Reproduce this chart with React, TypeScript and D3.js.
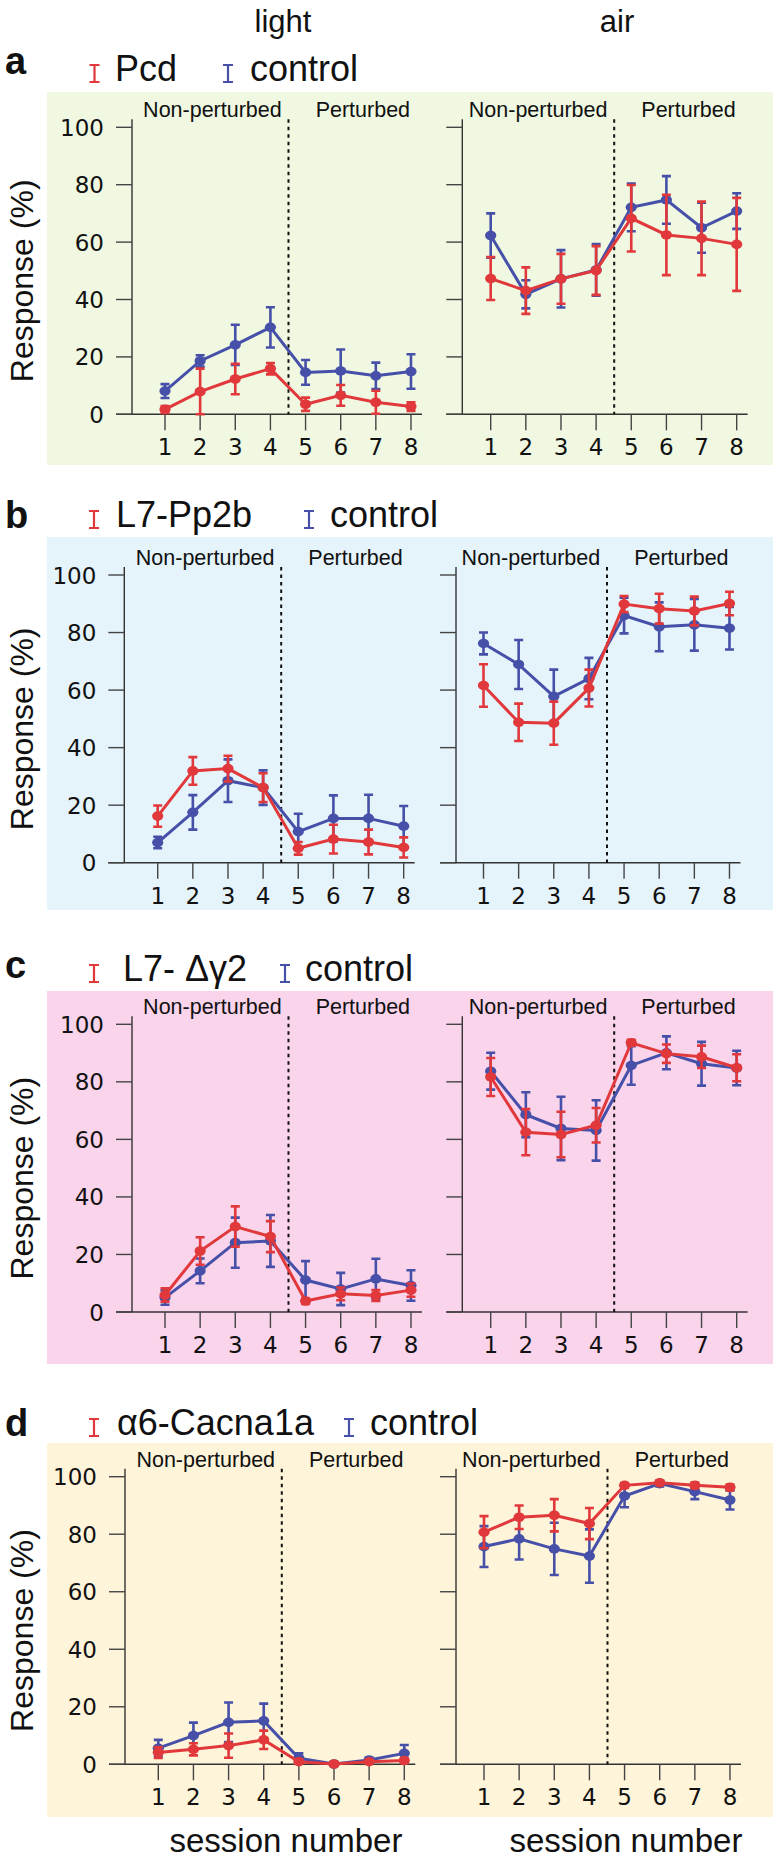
import React from "react";
import * as d3 from "d3";

// ---------- data ----------
const sessions = [1, 2, 3, 4, 5, 6, 7, 8];
const yTicks = [0, 20, 40, 60, 80, 100];
const panelLetters = ["a", "b", "c", "d"];
const mutantNames = ["Pcd", "L7-Pp2b", "L7- \u0394\u03b32", "\u03b16-Cacna1a"];
const controlName = "control";
const conditionNames = ["light", "air"];
const phaseNames = ["Non-perturbed", "Perturbed"];
const xTitle = "session number";
const yTitle = "Response (%)";

const aLightMut = [1.7, 7.9, 12.3, 15.9, 3.5, 6.6, 4.2, 2.7];
const aLightMutErr = [1.2, 8, 5.3, 2, 2.3, 3.6, 4, 1.5];
const aLightCtl = [8.1, 18.6, 24.2, 30.3, 14.6, 15.1, 13.4, 14.9];
const aLightCtlErr = [2.4, 2, 7, 7, 4.3, 7.5, 4.6, 6];
const aAirMut = [47.3, 43.1, 47.2, 50.1, 68.3, 62.5, 61.3, 59.2];
const aAirMutErr = [7.5, 8.1, 8.7, 8.5, 11.6, 14, 12.8, 16.2];
const aAirCtl = [62.3, 41.8, 47.2, 50.3, 72.1, 74.7, 65, 70.8];
const aAirCtlErr = [7.7, 4.9, 10, 9, 8.3, 8.3, 8.7, 6.2];

const bLightMut = [16.2, 31.9, 32.7, 26.1, 5, 8.2, 7.2, 5.3];
const bLightMutErr = [3.7, 4.8, 4.5, 5, 2.2, 5, 4.3, 3.5];
const bLightCtl = [7, 17.5, 28.5, 26.1, 10.8, 15.4, 15.4, 12.7];
const bLightCtlErr = [2, 6, 7.4, 6, 6.2, 8, 8.2, 7];
const bAirMut = [61.6, 48.8, 48.5, 60.7, 89.9, 88.3, 87.5, 90.1];
const bAirMutErr = [7.4, 6.5, 7.5, 6.4, 2.8, 5.2, 5, 4.1];
const bAirCtl = [76.2, 68.9, 57.8, 64, 85.9, 82, 82.7, 81.5];
const bAirCtlErr = [3.8, 8.5, 9.3, 7.2, 6.2, 8.5, 9, 7.4];

const cLightMut = [5.9, 21.2, 29.7, 26.2, 3.8, 6.3, 5.7, 7.6];
const cLightMutErr = [2.3, 4.8, 7, 5.4, 1, 2.2, 1.9, 2.3];
const cLightCtl = [5, 14.3, 24.1, 24.7, 11.1, 8, 11.5, 9.2];
const cLightCtlErr = [2.5, 4.3, 8.7, 9, 6.6, 5.6, 7, 5.3];
const cAirMut = [81.7, 62.5, 61.7, 64.9, 93.6, 89.8, 88.7, 84.9];
const cAirMutErr = [6.6, 8, 7.9, 6, 1, 3.2, 3.9, 4.7];
const cAirCtl = [83.7, 68.6, 63.8, 63.1, 85.7, 90.1, 86.3, 84.8];
const cAirCtlErr = [6.4, 7.8, 11, 10.5, 6.7, 5.7, 7.6, 6];

const dLightMut = [4.1, 5.2, 6.5, 8.5, 0.9, 0.1, 0.9, 1.3];
const dLightMutErr = [1.9, 2.1, 4.2, 3.2, 0.7, 0.3, 0.5, 0.8];
const dLightCtl = [5.6, 10, 14.6, 15.1, 2.1, 0.1, 1.5, 3.8];
const dLightCtlErr = [2.9, 4.5, 6.9, 6, 1.7, 0.3, 0.8, 2.9];
const dAirMut = [80.7, 85.9, 86.6, 83.7, 97, 97.9, 97, 96.3];
const dAirMutErr = [5.6, 4.1, 5.6, 5.4, 0.8, 0.5, 1, 1];
const dAirCtl = [75.7, 78.4, 74.9, 72.4, 93.3, 97.6, 94.8, 91.9];
const dAirCtlErr = [7.1, 7.2, 9.1, 9.3, 3.9, 1, 2.6, 3.3];

const panelData = [
  [[aLightMut, aLightMutErr, aLightCtl, aLightCtlErr], [aAirMut, aAirMutErr, aAirCtl, aAirCtlErr]],
  [[bLightMut, bLightMutErr, bLightCtl, bLightCtlErr], [bAirMut, bAirMutErr, bAirCtl, bAirCtlErr]],
  [[cLightMut, cLightMutErr, cLightCtl, cLightCtlErr], [cAirMut, cAirMutErr, cAirCtl, cAirCtlErr]],
  [[dLightMut, dLightMutErr, dLightCtl, dLightCtlErr], [dAirMut, dAirMutErr, dAirCtl, dAirCtlErr]],
];

// ---------- layout ----------
const W = 776;
const H = 1859;
const RED = "#e1383b";
const BLUE = "#4650a8";
const bgColors = ["#f0f8e1", "#e5f3fa", "#f9d4eb", "#fef4d9"];
const SANS = "'Liberation Sans', Arial, Helvetica, sans-serif";
const TICKFONT = "'DejaVu Sans', Verdana, sans-serif";
const STEP = 35.14;

const layouts = [
  { bgTop: 92, bgBottom: 465, y100: 127.3, y0: 414.3, axes: [132, 462.3], x1s: [165, 490.7], letterY: 74, legendY: 81, leg: [94.5, 115, 228, 250] },
  { bgTop: 537, bgBottom: 910, y100: 575, y0: 862.7, axes: [124.3, 456], x1s: [157.7, 483.5], letterY: 528, legendY: 527, leg: [94, 116, 309, 330] },
  { bgTop: 991, bgBottom: 1364, y100: 1024.3, y0: 1312, axes: [132, 462.3], x1s: [165, 490.7], letterY: 978, legendY: 981, leg: [94, 123, 285, 305] },
  { bgTop: 1443, bgBottom: 1817, y100: 1476.7, y0: 1764.3, axes: [125, 456], x1s: [158.3, 484], letterY: 1436, legendY: 1435, leg: [94, 117, 349, 370] },
];

function IBeam({ cx, base, color }: { cx: number; base: number; color: string }) {
  const top = base - 16;
  const bot = base + 1;
  return (
    <path
      d={`M${cx - 5},${top}H${cx + 5}M${cx},${top}V${bot}M${cx - 5},${bot}H${cx + 5}`}
      stroke={color}
      strokeWidth={2.2}
      fill="none"
    />
  );
}

function Series({ vals, errs, color, x, y }: any) {
  const line = d3
    .line<number>()
    .x((_, i) => x(sessions[i]))
    .y((v) => y(v));
  return (
    <g>
      {vals.map((v: number, i: number) => {
        const cx = x(sessions[i]);
        const yt = y(Math.min(100, v + errs[i]));
        const yb = y(Math.max(0, v - errs[i]));
        return (
          <path
            key={"e" + i}
            d={`M${cx - 4.5},${yt}H${cx + 4.5}M${cx},${yt}V${yb}M${cx - 4.5},${yb}H${cx + 4.5}`}
            stroke={color}
            strokeWidth={2.6}
            fill="none"
          />
        );
      })}
      <path d={line(vals) || ""} stroke={color} strokeWidth={3} fill="none" />
      {vals.map((v: number, i: number) => (
        <ellipse key={"m" + i} cx={x(sessions[i])} cy={y(v)} rx={5.6} ry={4.8} fill={color} />
      ))}
    </g>
  );
}

function Plot({ lay, side, data }: any) {
  const axisX = lay.axes[side];
  const x1 = lay.x1s[side];
  const x = d3.scaleLinear().domain([1, 8]).range([x1, x1 + 7 * STEP]);
  const y = d3.scaleLinear().domain([0, 100]).range([lay.y0, lay.y100]);
  const [mut, mutErr, ctl, ctlErr] = data;
  const divX = x(4.5) + 0.5;
  return (
    <g>
      <line x1={axisX} x2={axisX} y1={lay.y100 - 8} y2={lay.y0} stroke="#333" strokeWidth={1.4} />
      <line x1={axisX - 16} x2={x(8) + 11} y1={lay.y0} y2={lay.y0} stroke="#333" strokeWidth={1.4} />
      {yTicks.map((t) => (
        <g key={"yt" + t}>
          <line x1={axisX - 16} x2={axisX} y1={y(t)} y2={y(t)} stroke="#444" strokeWidth={1.4} />
          {side === 0 && (
            <text x={axisX - 28} y={y(t) + 8.5} textAnchor="end" fontFamily={TICKFONT} fontSize={23} fill="#111">
              {t}
            </text>
          )}
        </g>
      ))}
      {sessions.map((s) => (
        <g key={"xt" + s}>
          <line x1={x(s)} x2={x(s)} y1={lay.y0} y2={lay.y0 + 16} stroke="#444" strokeWidth={1.4} />
          <text x={x(s)} y={lay.y0 + 41} textAnchor="middle" fontFamily={TICKFONT} fontSize={23} fill="#111">
            {s}
          </text>
        </g>
      ))}
      <line x1={divX} x2={divX} y1={lay.y100 - 8} y2={lay.y0} stroke="#111" strokeWidth={2} strokeDasharray="3.5,4" />
      <text x={x(2.35)} y={lay.y100 - 10} textAnchor="middle" fontFamily={SANS} fontSize={21.5} fill="#111">
        {phaseNames[0]}
      </text>
      <text x={x(6.63)} y={lay.y100 - 10} textAnchor="middle" fontFamily={SANS} fontSize={21.5} fill="#111">
        {phaseNames[1]}
      </text>
      <Series vals={ctl} errs={ctlErr} color={BLUE} x={x} y={y} />
      <Series vals={mut} errs={mutErr} color={RED} x={x} y={y} />
    </g>
  );
}

export default function App() {
  return (
    <svg
      width={W}
      height={H}
      viewBox={`0 0 ${W} ${H}`}
      style={{ position: "absolute", left: 0, top: 0, background: "#fff" }}
    >
      <rect x={0} y={0} width={W} height={H} fill="#fff" />
      <text x={283} y={32} textAnchor="middle" fontFamily={SANS} fontSize={31} fill="#111">
        {conditionNames[0]}
      </text>
      <text x={617} y={32} textAnchor="middle" fontFamily={SANS} fontSize={31} fill="#111">
        {conditionNames[1]}
      </text>
      {layouts.map((lay, p) => (
        <g key={"p" + p}>
          <rect x={47} y={lay.bgTop} width={726} height={lay.bgBottom - lay.bgTop} fill={bgColors[p]} />
          <text x={5} y={lay.letterY} fontFamily={SANS} fontWeight="bold" fontSize={38} fill="#111">
            {panelLetters[p]}
          </text>
          <IBeam cx={lay.leg[0]} base={lay.legendY} color={RED} />
          <text x={lay.leg[1]} y={lay.legendY} fontFamily={SANS} fontSize={36} fill="#111">
            {mutantNames[p]}
          </text>
          <IBeam cx={lay.leg[2]} base={lay.legendY} color={BLUE} />
          <text x={lay.leg[3]} y={lay.legendY} fontFamily={SANS} fontSize={36} fill="#111">
            {controlName}
          </text>
          <text
            transform={`translate(33,${(lay.y0 + lay.y100) / 2 + 10}) rotate(-90)`}
            textAnchor="middle"
            fontFamily={SANS}
            fontSize={32}
            fill="#111"
          >
            {yTitle}
          </text>
          <Plot lay={lay} side={0} data={panelData[p][0]} />
          <Plot lay={lay} side={1} data={panelData[p][1]} />
        </g>
      ))}
      <text x={286} y={1852} textAnchor="middle" fontFamily={SANS} fontSize={33} fill="#111">
        {xTitle}
      </text>
      <text x={626} y={1852} textAnchor="middle" fontFamily={SANS} fontSize={33} fill="#111">
        {xTitle}
      </text>
    </svg>
  );
}
